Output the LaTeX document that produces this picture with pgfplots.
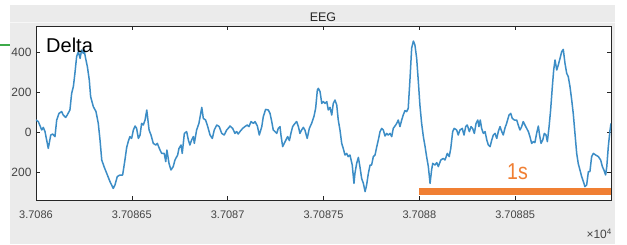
\documentclass[border=0pt]{standalone}
\usepackage{pgfplots}
\pgfplotsset{compat=1.18}
\usepackage{fontspec}
\setmainfont{Liberation Sans}
\definecolor{bg}{HTML}{EBEBEB}
\definecolor{eeg}{HTML}{3C8DC6}
\definecolor{barc}{HTML}{F07F33}
\definecolor{axc}{HTML}{262626}
\definecolor{tickc}{HTML}{444444}
\definecolor{grn}{HTML}{3DAA4A}
\pgfplotstableread{
t y
0.000 60
0.012 52
0.030 10
0.038 23
0.047 2
0.059 -57
0.064 -82
0.077 -15
0.087 -10
0.099 -23
0.108 60
0.120 93
0.134 102
0.142 85
0.155 73
0.163 85
0.177 110
0.186 193
0.195 227
0.203 293
0.212 377
0.221 402
0.230 368
0.238 410
0.247 393
0.250 413
0.259 368
0.268 327
0.278 260
0.285 177
0.299 127
0.313 102
0.325 43
0.334 -40
0.343 -140
0.355 -173
0.369 -207
0.386 -248
0.403 -282
0.412 -265
0.424 -223
0.438 -215
0.452 -215
0.464 -140
0.473 -78
0.482 -45
0.490 -23
0.499 -32
0.508 10
0.517 30
0.525 18
0.534 -32
0.543 -15
0.551 43
0.560 35
0.569 60
0.578 110
0.583 68
0.590 10
0.600 -15
0.612 -57
0.625 -65
0.633 -57
0.647 -90
0.656 -107
0.669 -107
0.677 -148
0.683 -90
0.694 -157
0.704 -190
0.716 -173
0.725 -140
0.739 -115
0.746 -82
0.757 -65
0.763 -107
0.774 -7
0.786 2
0.795 -40
0.803 -65
0.812 -40
0.821 -23
0.826 -57
0.838 10
0.850 43
0.865 123
0.873 68
0.885 60
0.896 27
0.908 -15
0.920 -32
0.930 10
0.943 35
0.956 27
0.969 -7
0.982 -15
0.995 10
1.007 23
1.012 30
1.026 18
1.038 -7
1.047 2
1.055 -10
1.064 2
1.078 18
1.090 27
1.102 35
1.111 27
1.122 52
1.134 43
1.143 52
1.155 30
1.165 -15
1.178 27
1.186 77
1.198 113
1.212 110
1.221 93
1.230 52
1.238 10
1.247 2
1.256 -7
1.264 18
1.273 27
1.278 -15
1.287 -73
1.295 -57
1.304 -40
1.313 -23
1.322 -43
1.330 -7
1.339 27
1.351 43
1.360 52
1.369 27
1.377 -7
1.386 10
1.395 23
1.403 10
1.415 -32
1.426 18
1.438 43
1.450 77
1.459 118
1.468 210
1.473 218
1.482 202
1.491 143
1.499 152
1.508 143
1.517 152
1.525 110
1.534 123
1.543 85
1.551 143
1.560 160
1.569 135
1.577 60
1.586 10
1.595 -57
1.603 -82
1.612 -115
1.621 -107
1.629 -123
1.638 -115
1.650 -165
1.659 -257
1.664 -207
1.673 -157
1.682 -127
1.690 -173
1.699 -232
1.708 -257
1.717 -298
1.725 -265
1.734 -207
1.743 -165
1.751 -165
1.760 -123
1.769 -115
1.778 -73
1.786 -40
1.795 2
1.804 18
1.812 10
1.821 -20
1.830 -7
1.838 -15
1.847 -7
1.856 -23
1.864 18
1.873 30
1.882 43
1.890 60
1.899 27
1.908 60
1.916 85
1.925 107
1.934 102
1.942 118
1.951 260
1.960 420
1.969 455
1.977 435
1.986 370
1.995 250
2.003 135
2.012 43
2.021 -23
2.030 -73
2.038 -123
2.047 -173
2.056 -257
2.064 -190
2.070 -157
2.082 -165
2.091 -153
2.099 -173
2.112 -140
2.125 -132
2.134 -140
2.146 -107
2.156 -123
2.164 -82
2.174 2
2.182 18
2.195 10
2.203 -15
2.212 10
2.224 18
2.233 -15
2.242 27
2.250 35
2.261 2
2.270 27
2.278 18
2.287 -7
2.296 43
2.305 60
2.311 27
2.318 60
2.325 18
2.334 -7
2.343 2
2.352 -40
2.360 -65
2.369 -73
2.378 -40
2.386 -15
2.395 -7
2.404 -32
2.412 2
2.421 27
2.430 2
2.438 -15
2.447 20
2.456 45
2.468 85
2.477 93
2.485 68
2.496 60
2.508 60
2.516 35
2.525 10
2.534 27
2.542 52
2.551 35
2.560 18
2.569 2
2.577 -23
2.586 -57
2.595 -48
2.603 -53
2.612 -7
2.621 30
2.626 -7
2.635 -57
2.644 -40
2.652 -7
2.661 -15
2.668 -48
2.677 27
2.685 110
2.694 227
2.701 310
2.708 360
2.717 310
2.725 335
2.734 368
2.743 402
2.751 413
2.760 343
2.769 293
2.777 277
2.786 227
2.795 160
2.803 93
2.812 -7
2.821 -107
2.829 -157
2.838 -190
2.847 -223
2.856 -248
2.864 -273
2.873 -265
2.882 -198
2.890 -198
2.899 -123
2.908 -107
2.920 -115
2.934 -123
2.946 -140
2.955 -173
2.963 -190
2.972 -215
2.978 -173
2.986 -73
2.995 10
3.000 43
}\eegdata
\begin{document}
\begin{tikzpicture}[x=1pt,y=1pt]
\useasboundingbox (0,0) rectangle (627,244);
\fill[bg] (10,0) rectangle (615,239);
\draw[white!60!bg, line width=0.8pt] (10,222) -- (615,222);
\draw[grn, line width=2.2pt] (0,199) -- (10,199);
\node[font=\fontsize{12.5}{14}\selectfont, text=axc] at (323,227) {EEG};
\begin{axis}[
 scale only axis, width=575pt, height=174pt, at={(36pt,44pt)}, anchor=south west,
 xmin=0, xmax=3, ymin=-340, ymax=530,
 axis background/.style={fill=white},
 axis line style={axc, line width=0.8pt},
 tick align=inside, major tick length=4pt,
 tick style={axc, line width=0.6pt},
 xtick={0,0.5,1,1.5,2,2.5},
 xticklabels={3.7086,3.70865,3.7087,3.70875,3.7088,3.70885},
 ytick={-200,0,200,400},
 yticklabels={200,0,200,400},
 xticklabel style={font=\fontsize{11}{13}\selectfont, text=tickc, yshift=-7pt},
 yticklabel style={font=\fontsize{12}{14}\selectfont, text=tickc, xshift=-1pt},
 /pgf/number format/assume math mode=true,
]
\addplot[eeg, line width=1.5pt, line join=round] table[x=t, y=y] {\eegdata};
\addplot[barc, line width=6.5pt] coordinates {(2,-297) (3,-297)};
\end{axis}
\node[anchor=base west, inner sep=0pt, font=\fontsize{20}{22}\selectfont] at (46,191) {Delta};
\node[anchor=base west, inner sep=0pt, text=barc] at (507,64) {\scalebox{0.85}[1]{\fontsize{23}{25}\selectfont 1s}};
\node[anchor=east, inner sep=0pt, text=tickc, font=\fontsize{12}{14}\selectfont] at (612,10) {×10\textsuperscript{4}};
\end{tikzpicture}
\end{document}
